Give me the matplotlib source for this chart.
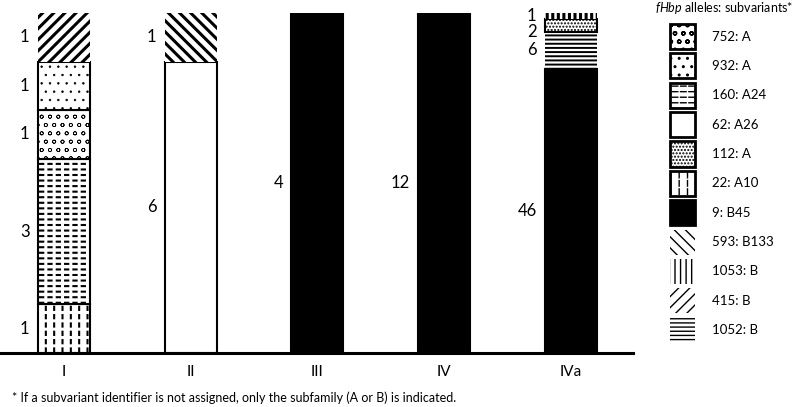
import matplotlib
matplotlib.use("Agg")
import matplotlib.pyplot as plt
import numpy as np
from matplotlib.patches import Patch
from matplotlib.legend_handler import HandlerTuple

plt.rcParams['font.family'] = ['Lato', 'DejaVu Sans']
plt.rcParams['mathtext.fontset'] = 'custom'
plt.rcParams['mathtext.it'] = 'Lato:italic'
plt.rcParams['mathtext.rm'] = 'Lato'

# Groups on the x axis
groups = ['I', 'II', 'III', 'IV', 'IVa']

# Stacked segments, bottom to top within each group
seg_group = ['I', 'I', 'I', 'I', 'I', 'II', 'II', 'III', 'IV', 'IVa', 'IVa', 'IVa', 'IVa']
seg_allele = ['22: A10', '160: A24', '752: A', '932: A', '415: B',
              '62: A26', '593: B133', '9: B45', '9: B45',
              '9: B45', '1052: B', '112: A', '1053: B']
seg_count = [1, 3, 1, 1, 1, 6, 1, 4, 12, 46, 6, 2, 1]

# Legend order
legend_alleles = ['752: A', '932: A', '160: A24', '62: A26', '112: A', '22: A10',
                  '9: B45', '593: B133', '1053: B', '415: B', '1052: B']

# fill styles per allele: hatch, white "cut" hatch (to make dashes), face, border, hatch width
styles = {
    '752: A':    dict(hatch='oo', cut=None, face='white', border=True, hlw=0.5),
    '932: A':    dict(hatch='..', cut=None, face='white', border=True, hlw=0.5),
    '160: A24':  dict(hatch='---', cut='||', face='white', border=True, hlw=1.5),
    '62: A26':   dict(hatch=None, cut=None, face='white', border=True, hlw=1.0),
    '112: A':    dict(hatch='.....', cut=None, face='white', border=True, hlw=1.0),
    '22: A10':   dict(hatch='||', cut='--', face='white', border=True, hlw=1.5),
    '9: B45':    dict(hatch=None, cut=None, face='black', border=True, hlw=1.0),
    '593: B133': dict(hatch='\\\\\\', cut=None, face='white', border=False, hlw=2.2),
    '1053: B':   dict(hatch='|||', cut=None, face='white', border=False, hlw=2.2),
    '415: B':    dict(hatch='///', cut=None, face='white', border=False, hlw=2.2),
    '1052: B':   dict(hatch='----', cut=None, face='white', border=False, hlw=1.4),
}


def set_hlw(artist, lw):
    if hasattr(artist, 'set_hatch_linewidth'):
        artist.set_hatch_linewidth(lw)


fig = plt.figure(figsize=(8, 4.07), dpi=100)
ax = fig.add_axes([0, 1 - 353 / 407, 633 / 800, (353 - 13) / 407])

x = np.arange(len(groups))
width = 0.41
totals = {g: sum(c for gg, c in zip(seg_group, seg_count) if gg == g) for g in groups}
bottoms = {g: 0.0 for g in groups}
labels = {g: [] for g in groups}

for g, allele, c in zip(seg_group, seg_allele, seg_count):
    st = styles[allele]
    xi = x[groups.index(g)]
    h = c / totals[g]
    b = bottoms[g]
    bars = ax.bar(xi, h, bottom=b, width=width, facecolor=st['face'], edgecolor='black',
                  hatch=st['hatch'], linewidth=0)
    for p in bars:
        set_hlw(p, st['hlw'])
    if st['cut']:
        cut = ax.bar(xi, h, bottom=b, width=width, facecolor='none', edgecolor='white',
                     hatch=st['cut'], linewidth=0)
        for p in cut:
            set_hlw(p, 2.2)
    if st['border']:
        ax.bar(xi, h, bottom=b, width=width, fill=False, edgecolor='black', linewidth=1.5)
    labels[g].append((c, xi, b + h / 2))
    bottoms[g] = b + h

# count labels, pushed down from the top so small segments don't collide
min_gap = 0.046
for g in groups:
    prev = None
    for c, xi, y in reversed(labels[g]):
        if prev is not None and prev - y < min_gap:
            y = prev - min_gap
        ax.annotate(str(c), xy=(xi - width / 2, y), xytext=(-6, 0),
                    textcoords='offset points', ha='right', va='center', fontsize=12)
        prev = y

ax.set_xlim(-0.505, 4.49)
ax.set_ylim(0, 1)
ax.set_xticks(x)
ax.set_xticklabels(groups, fontsize=11)
ax.tick_params(axis='x', length=0, pad=9)
ax.set_yticks([])
for s in ['top', 'right', 'left']:
    ax.spines[s].set_visible(False)
ax.spines['bottom'].set_linewidth(2.2)
ax.patch.set_visible(False)

# legend
handles = []
for allele in legend_alleles:
    st = styles[allele]
    parts = []
    base = Patch(facecolor=st['face'], edgecolor='black', hatch=st['hatch'], linewidth=0)
    set_hlw(base, st['hlw'])
    parts.append(base)
    if st['cut']:
        cp = Patch(facecolor='none', edgecolor='white', hatch=st['cut'], linewidth=0)
        set_hlw(cp, 2.2)
        parts.append(cp)
    if st['border']:
        parts.append(Patch(fill=False, edgecolor='black', linewidth=2))
    handles.append(tuple(parts))

fig.legend(handles, legend_alleles, handler_map={tuple: HandlerTuple(ndivide=1, pad=0)},
           loc='upper left', bbox_to_anchor=(670 / 800, 1 - 24 / 407), frameon=False,
           fontsize=9.5, handlelength=1.9, handleheight=2.54, labelspacing=0.33,
           handletextpad=1.3, borderpad=0, borderaxespad=0)

fig.text(655 / 800, 1 - 8 / 407, r'$\it{fHbp}$ alleles: subvariants*', fontsize=9,
         ha='left', va='center')

fig.text(12 / 800, 1 - 398 / 407,
         '* If a subvariant identifier is not assigned, only the subfamily (A or B) is indicated.',
         fontsize=9, ha='left', va='center')

fig.savefig('out.png', dpi=100)
